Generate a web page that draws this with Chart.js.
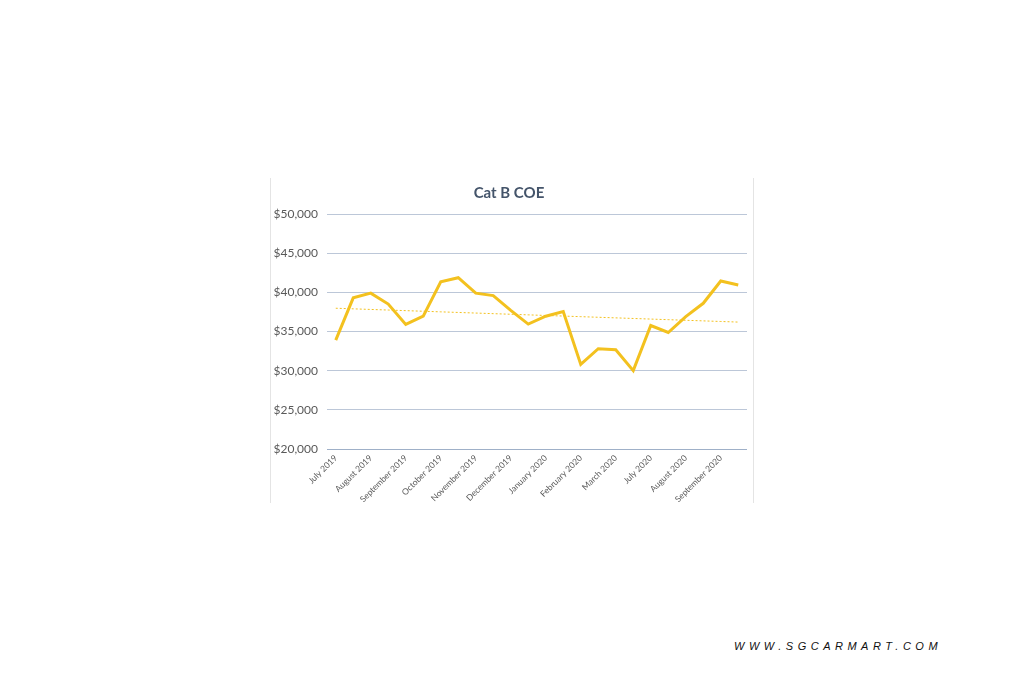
<!DOCTYPE html>
<html>
<head>
<meta charset="utf-8">
<script src="https://cdn.jsdelivr.net/npm/chart.js@4.4.1/dist/chart.umd.min.js"></script>
<style>
  html, body { margin: 0; padding: 0; background: #ffffff; width: 1024px; height: 683px; overflow: hidden; }
  #box { position: absolute; left: 270px; top: 178px; width: 484px; height: 325px;
         border-left: 1px solid #e4e4e4; border-right: 1px solid #e4e4e4; box-sizing: border-box; }
  #wm { position: absolute; left: 734px; top: 640px; font-family: "Liberation Sans", Arial, sans-serif;
        font-style: italic; font-size: 11px; letter-spacing: 4.5px; color: #111; white-space: nowrap; }
</style>
</head>
<body>
<div id="box"><canvas id="c"></canvas></div>
<div id="wm">WWW.SGCARMART.COM</div>
<script>
// Axis tick labels (one per month, two bidding exercises each)
const months = ["July 2019", "August 2019", "September 2019", "October 2019", "November 2019",
  "December 2019", "January 2020", "February 2020", "March 2020", "July 2020", "August 2020", "September 2020"];
// Cat B COE premiums, two per month
const catB = [33900, 39300, 39900, 38500, 35900, 36950, 41350, 41870, 39900, 39580, 37700, 35950,
  36950, 37540, 30800, 32800, 32670, 30000, 35760, 34870, 36900, 38600, 41450, 40930];
const yTicks = [20000, 25000, 30000, 35000, 40000, 45000, 50000];

const categories = months.flatMap(m => [m, ""]);

// Linear trendline (least squares) of the series, as Excel draws it
const n = catB.length;
const xm = (n - 1) / 2;
const ym = catB.reduce((a, b) => a + b, 0) / n;
let sxy = 0, sxx = 0;
catB.forEach((v, i) => { sxy += (i - xm) * (v - ym); sxx += (i - xm) * (i - xm); });
const slope = sxy / sxx;
const trend = catB.map((v, i) => ym + slope * (i - xm));

const font = "Lato, 'Open Sans', sans-serif";

new Chart(document.getElementById('c'), {
  type: 'line',
  data: {
    labels: categories,
    datasets: [
      { data: catB, borderColor: '#F3C11F', borderWidth: 3, pointRadius: 0, tension: 0, order: 1 },
      { data: trend, borderColor: '#F3C11F', borderWidth: 1, borderDash: [2, 2], pointRadius: 0, tension: 0, order: 2 }
    ]
  },
  options: {
    responsive: true,
    maintainAspectRatio: false,
    animation: false,
    layout: { padding: { left: 0, right: 6, top: 0, bottom: 0 } },
    plugins: {
      legend: { display: false },
      tooltip: { enabled: false },
      title: {
        display: true, text: 'Cat B COE', color: '#44546A',
        font: { family: font, size: 15, weight: 'bold' },
        padding: { top: 6, bottom: 12 }
      }
    },
    scales: {
      x: {
        offset: true,
        grid: { display: false, drawTicks: false },
        border: { display: false },
        ticks: {
          autoSkip: false, minRotation: 45, maxRotation: 45, padding: 4,
          color: '#595959', font: { family: font, size: 8.5 },
          callback: function (v, i) { return categories[i]; }
        },
        afterFit: s => { s.height = 54; }
      },
      y: {
        min: 20000, max: 50000,
        afterBuildTicks: s => { s.ticks = yTicks.map(v => ({ value: v })); },
        grid: {
          color: ctx => ctx.tick && ctx.tick.value === 20000 ? '#9FB0C8' : '#BCC7D8',
          lineWidth: 1, drawTicks: false
        },
        border: { display: false },
        ticks: {
          padding: 9, color: '#595959', font: { family: font, size: 12 },
          callback: v => '$' + v.toLocaleString('en-US')
        },
        afterFit: s => { s.width = 56; }
      }
    }
  }
});
</script>
</body>
</html>
